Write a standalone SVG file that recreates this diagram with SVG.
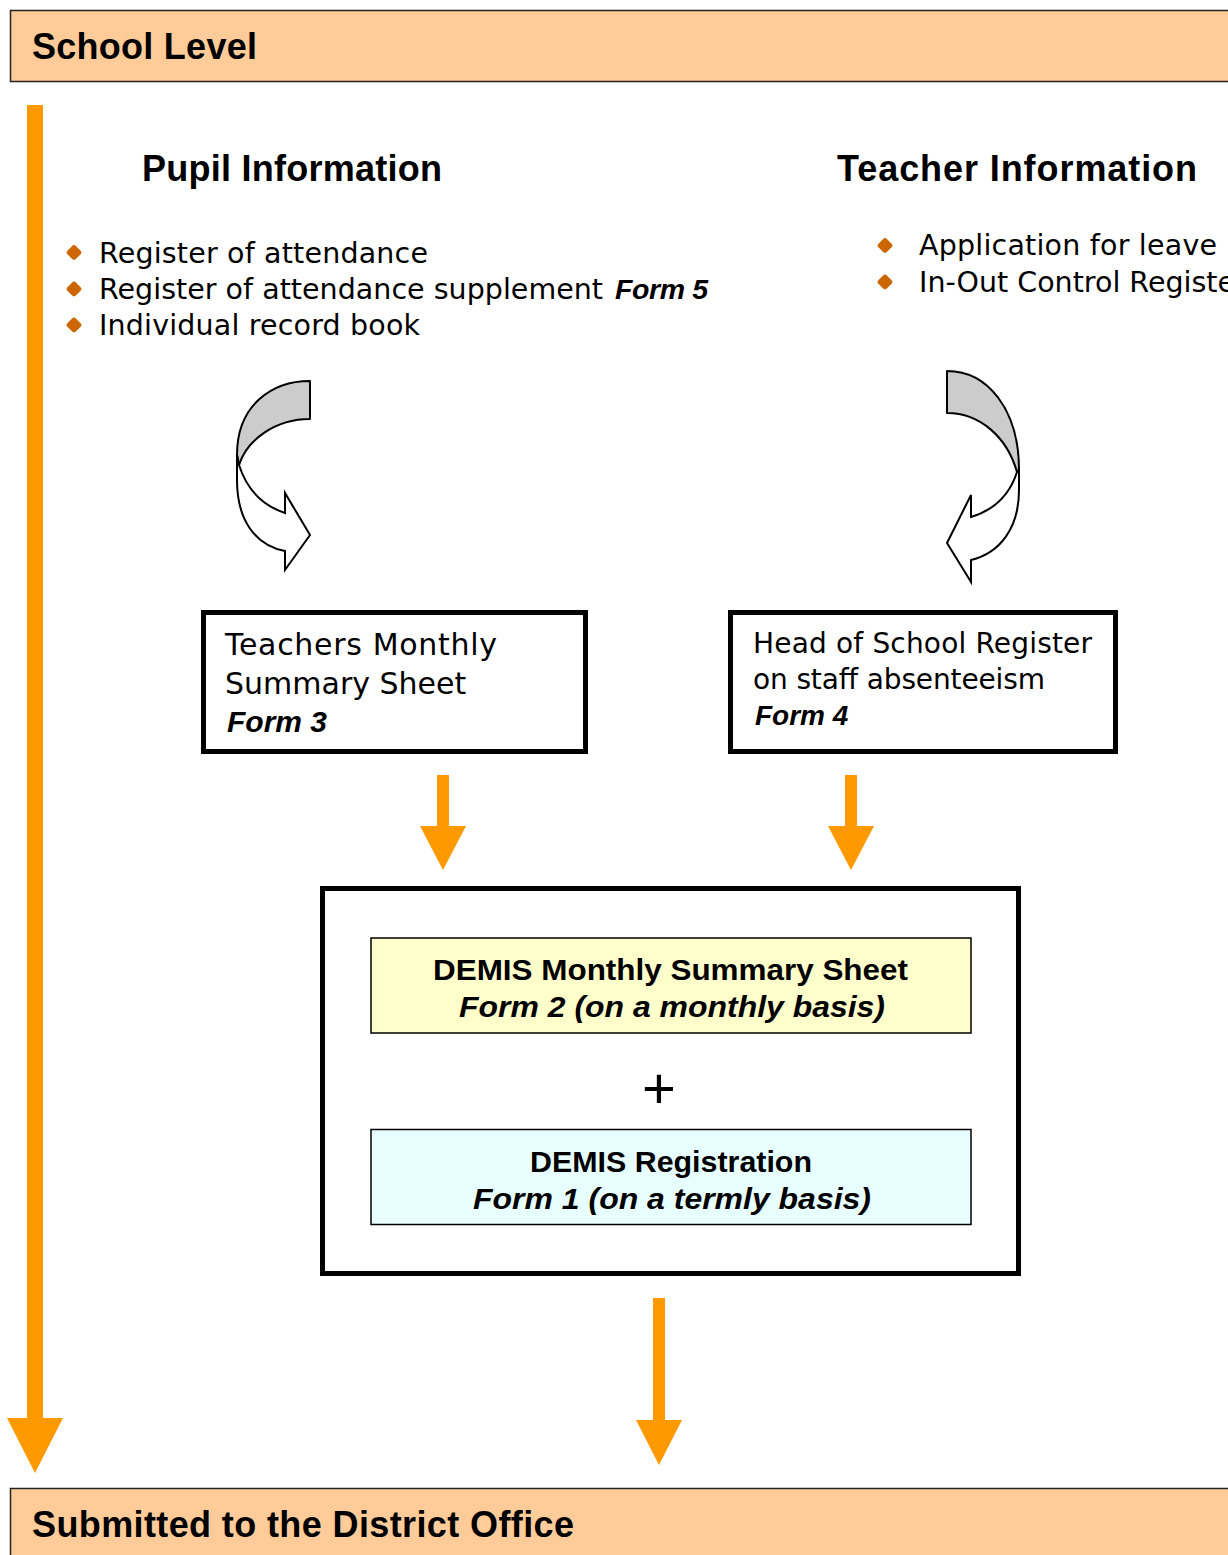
<svg xmlns="http://www.w3.org/2000/svg" width="1228" height="1555" viewBox="0 0 1228 1555">
<style>
.banner{fill:#FFCC99;stroke:#222;stroke-width:1.5}
.bt{font-family:"Liberation Sans",Arial,sans-serif;font-weight:bold;font-size:36px;fill:#000}
.hd{font-family:"Liberation Sans",Arial,sans-serif;font-weight:bold;font-size:36px;fill:#000}
.body{font-family:"DejaVu Sans",Verdana,sans-serif;font-size:28.5px;fill:#000}
.bx{font-family:"DejaVu Sans",Verdana,sans-serif;font-size:30px;fill:#000}
.bx2{font-family:"DejaVu Sans",Verdana,sans-serif;font-size:28px;fill:#000}
.fi{font-family:"Liberation Sans",Arial,sans-serif;font-weight:bold;font-style:italic;fill:#000}
.dm{font-family:"Liberation Sans",Arial,sans-serif;font-weight:bold;font-size:30px;fill:#000}
.bul{fill:#CC6600}
.box{fill:#fff;stroke:#000;stroke-width:5}
.orange{fill:#FF9900}
.curveBack{fill:#CCCCCC;stroke:#000;stroke-width:2;stroke-linejoin:round}
.curveFront{fill:#fff;stroke:#000;stroke-width:2;stroke-linejoin:miter}
</style>
<defs>
<rect id="diamond" x="-6" y="-6" width="12" height="12" rx="3" transform="rotate(45)"/>
</defs>
<rect width="1228" height="1555" fill="#fff"/>

<g id="connectors">
  <polygon class="orange" points="27,105 43,105 43,1418 63,1418 35,1473 7,1418 27,1418"/>
  <polygon class="orange" points="437,775 449,775 449,826 466,826 443,870 420,826 437,826"/>
  <polygon class="orange" points="845,775 857,775 857,826 874,826 851,870 828,826 845,826"/>
  <polygon class="orange" points="653,1298 665,1298 665,1420 682,1420 659,1465 636,1420 653,1420"/>
  <g id="curved-left">
    <path class="curveBack" d="M310,381 C272,381 237,405 237,455 L239,465 C247,440 275,419 310,419 Z"/>
    <path class="curveFront" d="M239,465 C247,490 264,506 285,513 L285,493 L310,535 L285,570 L285,551 C255,545 237,520 237,480 L237,455 Z"/>
  </g>
  <g id="curved-right">
    <path class="curveBack" d="M947,371 C988,371 1019,410 1019,470 L1017,472 C1007,437 980,413 947,413 Z"/>
    <path class="curveFront" d="M1017,472 C1010,494 994,510 971,517 L971,495 L947,543 L971,582 L971,560 C1000,553 1019,528 1019,490 L1019,470 Z"/>
  </g>
</g>

<g id="school-level">
  <rect class="banner" x="10.5" y="10.5" width="1230" height="71"/>
  <text class="bt" x="32" y="59" textLength="225">School Level</text>
</g>

<g id="pupil-information">
  <text class="hd" x="142" y="181" textLength="300">Pupil Information</text>
  <use href="#diamond" class="bul" x="74" y="252.5"/>
  <use href="#diamond" class="bul" x="74" y="289"/>
  <use href="#diamond" class="bul" x="74" y="325"/>
  <text class="body" x="99" y="263" textLength="329">Register of attendance</text>
  <text class="body" x="99" y="299" textLength="504">Register of attendance supplement</text>
  <text class="fi" x="615" y="299" font-size="28.5" textLength="93">Form 5</text>
  <text class="body" x="99" y="335" textLength="321">Individual record book</text>
</g>

<g id="teacher-information">
  <text class="hd" x="837" y="181" textLength="360">Teacher Information</text>
  <use href="#diamond" class="bul" x="885" y="245.5"/>
  <use href="#diamond" class="bul" x="885" y="282"/>
  <text class="body" x="919" y="255" textLength="298">Application for leave</text>
  <text class="body" x="919" y="292">In-Out Control Register</text>
</g>

<g id="form3">
  <rect class="box" x="203.5" y="612.5" width="382" height="139"/>
  <text class="bx" x="225" y="655" textLength="272">Teachers Monthly</text>
  <text class="bx" x="225" y="694">Summary Sheet</text>
  <text class="fi" x="227" y="732" font-size="30">Form 3</text>
</g>

<g id="form4">
  <rect class="box" x="730.5" y="612.5" width="385" height="139"/>
  <text class="bx2" x="753" y="653" textLength="339">Head of School Register</text>
  <text class="bx2" x="753" y="689" textLength="292">on staff absenteeism</text>
  <text class="fi" x="755" y="725" font-size="28">Form 4</text>
</g>

<g id="demis-forms">
  <rect class="box" x="322.5" y="888.5" width="696" height="385"/>
  <g id="form2">
    <rect x="371" y="938" width="600" height="95" fill="#FFFFCC" stroke="#000" stroke-width="1.5"/>
    <text class="dm" x="670.5" y="980" text-anchor="middle" textLength="475" lengthAdjust="spacingAndGlyphs">DEMIS Monthly Summary Sheet</text>
    <text class="fi" x="672" y="1017" font-size="30" text-anchor="middle" textLength="426" lengthAdjust="spacingAndGlyphs">Form 2 (on a monthly basis)</text>
  </g>
  <text x="659" y="1108" font-family="Liberation Sans, Arial, sans-serif" font-size="58" text-anchor="middle" fill="#000">+</text>
  <g id="form1">
    <rect x="371" y="1129.5" width="600" height="95" fill="#E8FFFF" stroke="#000" stroke-width="1.5"/>
    <text class="dm" x="671" y="1172" text-anchor="middle" textLength="282" lengthAdjust="spacingAndGlyphs">DEMIS Registration</text>
    <text class="fi" x="672" y="1209" font-size="30" text-anchor="middle" textLength="398" lengthAdjust="spacingAndGlyphs">Form 1 (on a termly basis)</text>
  </g>
</g>

<g id="district-office">
  <rect class="banner" x="10.5" y="1488.5" width="1230" height="80"/>
  <text class="bt" x="32" y="1537" font-size="35" textLength="542">Submitted to the District Office</text>
</g>
</svg>
